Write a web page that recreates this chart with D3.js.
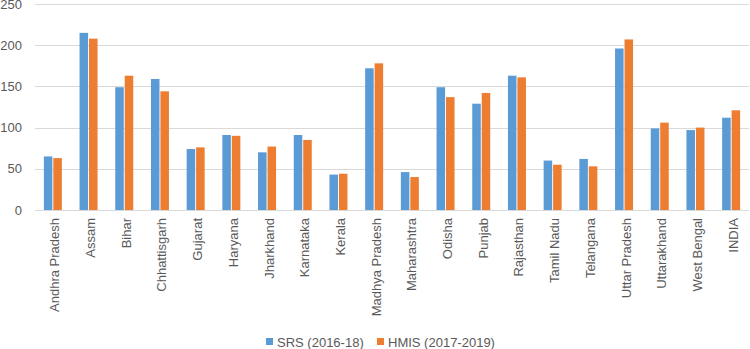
<!DOCTYPE html>
<html>
<head>
<meta charset="utf-8">
<script src="https://cdn.jsdelivr.net/npm/d3@7"></script>
<style>
  body { margin: 0; background: #fff; }
  text { font-family: "Liberation Sans", Arial, sans-serif; fill: #595959; }
</style>
</head>
<body>
<div id="chart"></div>
<script>
const width = 750, height = 349;
const margin = { top: 4, right: 1, bottom: 139, left: 35 };

// chart data
const states = ['Andhra Pradesh','Assam','Bihar','Chhattisgarh','Gujarat','Haryana','Jharkhand',
  'Karnataka','Kerala','Madhya Pradesh','Maharashtra','Odisha','Punjab','Rajasthan','Tamil Nadu',
  'Telangana','Uttar Pradesh','Uttarakhand','West Bengal','INDIA'];
const srs  = [65,215,149,159,74,91,70,91,43,172,46,149,129,163,60,62,196,99,97,112];
const hmis = [63,208,163,144,76,90,77,85,44,178,40,137,142,161,55,53,207,106,100,121];
const seriesNames = ['SRS (2016-18)','HMIS (2017-2019)'];
const yTicks = [0,50,100,150,200,250];
const colors = ['#5B9BD5','#ED7D31'];

const svg = d3.select('#chart').append('svg')
  .attr('width', width).attr('height', height);

const x = d3.scaleBand().domain(states)
  .range([margin.left, width - margin.right]);
const y = d3.scaleLinear().domain([0,250])
  .range([height - margin.bottom, margin.top]);

// gridlines
svg.append('g').selectAll('line')
  .data(yTicks)
  .join('line')
  .attr('x1', margin.left).attr('x2', width - margin.right)
  .attr('y1', d => Math.round(y(d)) + 0.5).attr('y2', d => Math.round(y(d)) + 0.5)
  .attr('stroke', '#d9d9d9').attr('stroke-width', 1.2);

// y tick labels
svg.append('g').selectAll('text')
  .data(yTicks)
  .join('text')
  .attr('x', 22).attr('y', d => y(d))
  .attr('dy', '0.35em')
  .attr('text-anchor', 'end')
  .style('font-size', '13px')
  .text(d => d);

const inner = d3.scaleBand().domain([0,1])
  .range([0, 18]).paddingInner(0.1);
const offset = (x.bandwidth() - 18) / 2;

const data = states.map((s,i) => ({ state: s, vals: [srs[i], hmis[i]] }));

const groups = svg.append('g').selectAll('g')
  .data(data)
  .join('g')
  .attr('transform', d => `translate(${x(d.state) + offset},0)`);

groups.selectAll('rect')
  .data(d => d.vals.map((v,k) => ({ k, v })))
  .join('rect')
  .attr('x', d => inner(d.k))
  .attr('width', inner.bandwidth())
  .attr('y', d => y(d.v))
  .attr('height', d => y(0) - y(d.v))
  .attr('fill', d => colors[d.k]);

// category labels rotated
svg.append('g').selectAll('text')
  .data(states)
  .join('text')
  .attr('transform', d => `translate(${x(d) + x.bandwidth()/2 + 6.5},${y(0) + 8}) rotate(-90)`)
  .attr('text-anchor', 'end')
  .style('font-size', '13px')
  .text(d => d);

// legend
const legendItems = [{ name: seriesNames[0], c: colors[0], lx: 266 },
                     { name: seriesNames[1], c: colors[1], lx: 377 }];
const legend = svg.append('g').selectAll('g')
  .data(legendItems)
  .join('g')
  .attr('transform', d => `translate(${d.lx},338)`);
legend.append('rect').attr('width', 7).attr('height', 7).attr('fill', d => d.c);
legend.append('text').attr('x', 11).attr('y', 4).attr('dy', '0.35em')
  .style('font-size', '13px').text(d => d.name);
</script>
</body>
</html>
